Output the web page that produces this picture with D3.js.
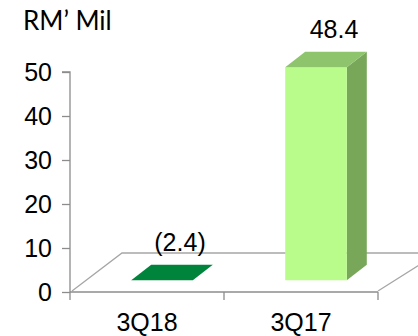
<!DOCTYPE html>
<html><head><meta charset="utf-8">
<script src="https://cdn.jsdelivr.net/npm/d3@7"></script>
<style>html,body{margin:0;padding:0;background:#fff;}svg{display:block;}</style>
</head><body>
<svg id="c" width="418" height="336"></svg>
<script>
const categories = ["3Q18", "3Q17"];
const values = [-2.4, 48.4];
const labels = ["(2.4)", "48.4"];
const yTicks = [0, 10, 20, 30, 40, 50];
const unitLabel = "RM\u2019 Mil";

const svg = d3.select("#c");
const font = "'Liberation Sans', Arial, sans-serif";
const x0 = 70, x1 = 378, y0 = 292;
const depth = {dx: 50, dy: -39};
const x = d3.scaleBand().domain(categories).range([x0, x1]).paddingInner(0).paddingOuter(0);
const y = d3.scaleLinear().domain([0, 50]).range([y0, 72]);

// floor
const fl = [[x0 + 2, y0 - 1], [x0 + 2 + depth.dx, y0 + depth.dy], [x1 + depth.dx + 10, y0 + depth.dy], [x1, y0 - 1]];
svg.append("path").attr("d", d3.line()(fl)).attr("fill", "none").attr("stroke", "#a6a6a6").attr("stroke-width", 1.3);

// axes
const yAxis = d3.axisLeft(y).tickValues(yTicks).tickSize(8).tickPadding(10).tickFormat(d3.format("d"));
const gy = svg.append("g").attr("transform", `translate(${x0},0)`).call(yAxis);
gy.select(".domain").attr("stroke", "#8c8c8c").attr("stroke-width", 1.3).attr("d", `M-8,${y(50)}H0V${y0}`);
gy.selectAll(".tick line").attr("stroke", "#8c8c8c").attr("stroke-width", 1.3);
gy.selectAll(".tick text").attr("font-family", font).attr("font-size", 25).attr("fill", "#000");

const xAxis = d3.axisBottom(x).tickSize(0).tickPadding(21);
const gx = svg.append("g").attr("transform", `translate(0,${y0})`).call(xAxis);
gx.select(".domain").attr("stroke", "#8c8c8c").attr("stroke-width", 1.3).attr("d", `M${x0},0H${x1}`);
gx.selectAll(".tick text").attr("font-family", font).attr("font-size", 25).attr("fill", "#000");
[x0, x0 + x.step(), x1].forEach(t => {
  gx.append("line").attr("x1", t).attr("x2", t).attr("y1", 0).attr("y2", 8).attr("stroke", "#8c8c8c").attr("stroke-width", 1.3);
});

// bars
const tF = 0.3, tB = 0.7;
const bw = x.bandwidth() * 0.4;
categories.forEach((c, i) => {
  const v = values[i];
  const h = Math.max(0, v);
  const left = x(c) + (x.bandwidth() - bw) / 2;
  const fx = left + depth.dx * tF, fy = depth.dy * tF;
  const bx = left + depth.dx * tB, by = depth.dy * tB;
  const yt = y(h), yb = y(0);
  if (h > 0) {
    svg.append("path").attr("fill", "#78a75a")
      .attr("d", d3.line()([[fx + bw, yb + fy], [bx + bw, yb + by], [bx + bw, yt + by], [fx + bw, yt + fy]]));
    svg.append("path").attr("fill", "#b9fc8b")
      .attr("d", d3.line()([[fx, yb + fy], [fx + bw, yb + fy], [fx + bw, yt + fy], [fx, yt + fy]]));
    svg.append("path").attr("fill", "#8ec46b")
      .attr("d", d3.line()([[fx, yt + fy], [fx + bw, yt + fy], [bx + bw, yt + by], [bx, yt + by]]));
  } else {
    svg.append("path").attr("fill", "#00843c")
      .attr("d", d3.line()([[fx, yt + fy], [fx + bw, yt + fy], [bx + bw, yt + by], [bx, yt + by]]));
  }
  svg.append("text").attr("x", x(c) + x.bandwidth() / 2 + 33).attr("y", yt + by - 14)
    .attr("text-anchor", "middle").attr("font-family", font).attr("font-size", 25).attr("fill", "#000")
    .text(labels[i]);
});

svg.append("text").attr("x", 23).attr("y", 30).attr("font-family", "Lato, 'Open Sans', sans-serif")
  .attr("font-size", 26).attr("fill", "#000").text(unitLabel);
</script>
</body></html>
